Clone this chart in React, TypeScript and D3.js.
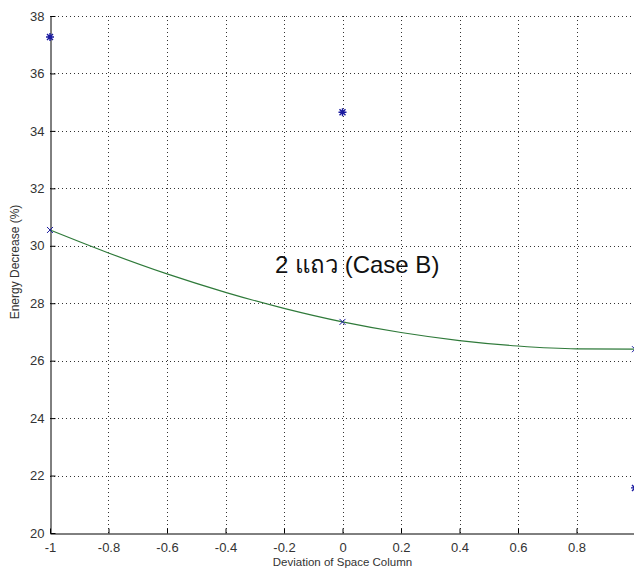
import React, { useEffect, useRef } from 'react'
import * as d3 from 'd3'

// measured points (blue stars)
const starX = [-1, 0, 1]
const starY = [37.27, 34.65, 21.57]

// points on the fitted curve (small x markers)
const fitPtX = [-1, 0, 1]
const fitPtY = [30.55, 27.35, 26.4]

// fitted curve, read along x
const curveX = [-1, -0.8, -0.6, -0.4, -0.2, 0, 0.2, 0.4, 0.6, 0.8, 1]
const curveY = [30.55, 29.75, 29.02, 28.38, 27.82, 27.35, 26.98, 26.7, 26.51, 26.41, 26.4]

const xTicks = [-1, -0.8, -0.6, -0.4, -0.2, 0, 0.2, 0.4, 0.6, 0.8]
const yTicks = [20, 22, 24, 26, 28, 30, 32, 34, 36, 38]

const W = 634
const H = 569

export default function App() {
  const ref = useRef<SVGSVGElement>(null)

  useEffect(() => {
    const svg = d3.select(ref.current)
    svg.selectAll('*').remove()

    const x = d3.scaleLinear().domain([-1, 1]).range([50, 635])
    const y = d3.scaleLinear().domain([20, 38]).range([533, 16])
    const font = 'Arial, "Liberation Sans", sans-serif'

    svg.append('rect').attr('width', W).attr('height', H).attr('fill', '#fff')

    const grid = svg.append('g').attr('stroke', '#333').attr('stroke-width', 1)
      .attr('stroke-dasharray', '1,3')
    xTicks.filter(t => t !== -1).forEach(t => {
      grid.append('line').attr('x1', Math.round(x(t)) + 0.5).attr('x2', Math.round(x(t)) + 0.5)
        .attr('y1', y(20)).attr('y2', y(38))
    })
    yTicks.filter(t => t !== 20).forEach(t => {
      grid.append('line').attr('y1', Math.round(y(t)) + 0.5).attr('y2', Math.round(y(t)) + 0.5)
        .attr('x1', x(-1)).attr('x2', W)
    })

    // axes
    const fmt = (d: d3.NumberValue) => String(+d)
    const xAxis = d3.axisBottom(x).tickValues(xTicks).tickSizeInner(-5).tickSizeOuter(0)
      .tickPadding(9).tickFormat(fmt)
    const gx = svg.append('g').attr('transform', `translate(0,${Math.round(y(20)) + 0.5})`).call(xAxis)
    gx.select('.domain').attr('stroke', '#000')
    gx.selectAll('.tick line').attr('stroke', '#000')
    gx.selectAll('text').attr('font-family', font).attr('font-size', 13).attr('fill', '#333')

    const yAxis = d3.axisLeft(y).tickValues(yTicks).tickSizeInner(-5).tickSizeOuter(0)
      .tickPadding(6).tickFormat(fmt)
    const gy = svg.append('g').attr('transform', `translate(${Math.round(x(-1)) + 0.5},0)`).call(yAxis)
    gy.select('.domain').attr('stroke', '#000')
    gy.selectAll('.tick line').attr('stroke', '#000')
    gy.selectAll('text').attr('font-family', font).attr('font-size', 13).attr('fill', '#333')

    // fitted curve
    const line = d3.line<number>().x((_, i) => x(curveX[i])).y(d => y(d)).curve(d3.curveMonotoneX)
    svg.append('path').datum(curveY).attr('d', line).attr('fill', 'none')
      .attr('stroke', '#2f7a3a').attr('stroke-width', 1.2)

    // x markers
    fitPtY.forEach((v, i) => {
      const cx = x(fitPtX[i]), cy = y(v)
      svg.append('path').attr('d', `M${cx - 3},${cy - 3}L${cx + 3},${cy + 3}M${cx - 3},${cy + 3}L${cx + 3},${cy - 3}`)
        .attr('stroke', '#1a1aa0').attr('stroke-width', 1)
    })

    // star markers
    starY.forEach((v, i) => {
      const cx = x(starX[i]), cy = y(v), r = 4
      svg.append('path')
        .attr('d', `M${cx - r},${cy}L${cx + r},${cy}M${cx},${cy - r}L${cx},${cy + r}` +
          `M${cx - 3},${cy - 3}L${cx + 3},${cy + 3}M${cx - 3},${cy + 3}L${cx + 3},${cy - 3}`)
        .attr('stroke', '#1a1aa0').attr('stroke-width', 1.4)
    })

    svg.append('text').attr('x', 275).attr('y', 273).attr('font-family', font)
      .attr('font-size', 24).attr('fill', '#111').text('2 แถว (Case B)')

    svg.append('text').attr('x', x(0)).attr('y', 566).attr('text-anchor', 'middle')
      .attr('font-family', font).attr('font-size', 11.5).attr('fill', '#333')
      .text('Deviation of Space Column')

    svg.append('text').attr('transform', 'translate(19,262) rotate(-90)').attr('text-anchor', 'middle')
      .attr('font-family', font).attr('font-size', 12).attr('fill', '#333')
      .text('Energy Decrease (%)')
  }, [])

  return (
    <svg ref={ref} width={W} height={H} style={{ position: 'absolute', left: 0, top: 0 }} />
  )
}
